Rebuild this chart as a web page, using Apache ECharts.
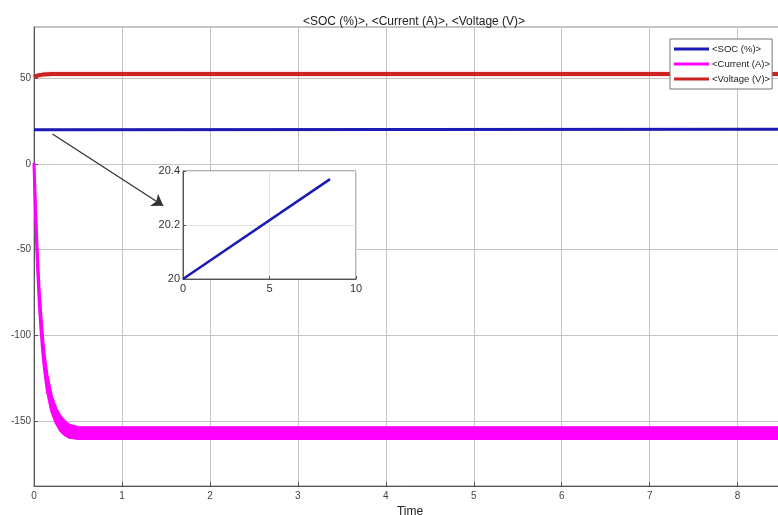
<!DOCTYPE html>
<html>
<head>
<meta charset="utf-8">
<script src="https://cdn.jsdelivr.net/npm/echarts@6/dist/echarts.min.js"></script>
<style>html,body{margin:0;padding:0;background:#fff}#c{width:778px;height:515px}</style>
</head>
<body>
<div id="c"></div>
<script>
// ---- data ----
const titleText = '<SOC (%)>, <Current (A)>, <Voltage (V)>';
const seriesNames = ['<SOC (%)>', '<Current (A)>', '<Voltage (V)>'];
const yTicks = [-150, -100, -50, 0, 50];
const xTicks = [0, 1, 2, 3, 4, 5, 6, 7, 8];

const socTime = [0, 8.5];
const socValue = [20.0, 20.37];

const voltTime = [0, 0.03, 0.06, 0.1, 0.15, 0.2, 0.3, 0.5, 1, 2, 3, 4, 5, 6, 7, 8, 8.55];
const voltValue = [50.9, 51.5, 51.9, 52.2, 52.4, 52.5, 52.6, 52.6, 52.6, 52.6, 52.6, 52.6, 52.6, 52.6, 52.6, 52.6, 52.6];

const curTime  = [0, 0.02, 0.04, 0.06, 0.08, 0.1, 0.12, 0.15, 0.2, 0.25, 0.3, 0.35, 0.4, 0.5, 0.6, 1, 2, 3, 4, 5, 6, 7, 8, 8.55];
const curUpper = [0, -30, -55, -75, -90, -103, -113, -124, -136, -143, -147.5, -150.5, -152.5, -153.8, -154, -154, -154, -154, -154, -154, -154, -154, -154, -154];
const curLower = [0, -33, -60, -81, -97, -110, -120, -132, -144, -151, -155.5, -158, -159.5, -160.3, -160.3, -160.3, -160.3, -160.3, -160.3, -160.3, -160.3, -160.3, -160.3, -160.3];

const insetXTicks = [0, 5, 10];
const insetYTicks = [20, 20.2, 20.4];
const arrowFrom = [0.21, 17.5];
const arrowTo = [1.47, -24.4];

// ---- build ----
const FONT = 'Liberation Sans';
const colors = { soc: '#1a1ab4', cur: '#ff00ff', volt: '#cc2222' };
const zip = (a, b) => a.map((v, i) => [v, b[i]]);

const chart = echarts.init(document.getElementById('c'), null, { renderer: 'canvas' });

const bandPts = curTime.map((t, i) => [t, curUpper[i]])
  .concat(curTime.map((t, i) => [t, curLower[i]]).reverse());

chart.setOption({
  backgroundColor: '#fff',
  animation: false,
  textStyle: { fontFamily: FONT },
  title: {
    text: titleText, left: 298, top: 11,
    textStyle: { fontSize: 12, fontWeight: 'normal', color: '#222', fontFamily: FONT }
  },
  legend: {
    data: seriesNames.map((n, i) => ({
      name: n, icon: 'rect',
      itemStyle: { color: [colors.soc, colors.cur, colors.volt][i] }
    })),
    orient: 'vertical', left: 670, top: 39,
    itemWidth: 35, itemHeight: 3, itemGap: 3,
    padding: [4, 2, 4, 4],
    backgroundColor: '#fff', borderColor: '#777', borderWidth: 1,
    textStyle: { fontSize: 9.5, color: '#222', lineHeight: 12, fontFamily: FONT, padding: [0, 0, 0, -2] },
    selectedMode: false
  },
  grid: [
    { left: 34, top: 27, width: 752, height: 459, show: true, borderColor: '#888', borderWidth: 1, backgroundColor: '#fff', z: 0, outerBoundsMode: 'none', containLabel: false },
    { left: 183, top: 171, width: 173, height: 108, show: true, borderColor: '#666', borderWidth: 1, backgroundColor: '#fff', z: 5, outerBoundsMode: 'none', containLabel: false }
  ],
  xAxis: [
    {
      type: 'value', gridIndex: 0, min: 0, max: 8.55,
      name: 'Time', nameLocation: 'middle', nameGap: 18,
      nameTextStyle: { fontSize: 12, color: '#222', fontFamily: FONT },
      axisLine: { show: true, onZero: false, lineStyle: { color: '#555' } },
      axisTick: { show: true, inside: true, length: 4, lineStyle: { color: '#555' }, customValues: xTicks },
      axisLabel: { fontSize: 10, color: '#444', margin: 5, customValues: xTicks },
      splitLine: { show: true, lineStyle: { color: '#c4c4c4', width: 1 } }
    },
    {
      type: 'value', gridIndex: 1, min: 0, max: 10, interval: 5, z: 6,
      axisLine: { show: true, onZero: false, lineStyle: { color: '#555' } },
      axisTick: { show: true, inside: true, length: 3, lineStyle: { color: '#555' } },
      axisLabel: { fontSize: 11, color: '#333', margin: 4 },
      splitLine: { show: true, lineStyle: { color: '#e2e2e2' } }
    }
  ],
  yAxis: [
    {
      type: 'value', gridIndex: 0, min: -188, max: 80,
      axisLine: { show: true, onZero: false, lineStyle: { color: '#555' } },
      axisTick: { show: true, inside: true, length: 4, lineStyle: { color: '#555' }, customValues: yTicks },
      axisLabel: { fontSize: 10, color: '#444', margin: 3, customValues: yTicks },
      splitLine: { show: true, lineStyle: { color: '#c4c4c4', width: 1 } }
    },
    {
      type: 'value', gridIndex: 1, min: 20, max: 20.4, interval: 0.2, z: 6,
      axisLine: { show: true, onZero: false, lineStyle: { color: '#555' } },
      axisTick: { show: true, inside: true, length: 3, lineStyle: { color: '#555' } },
      axisLabel: { fontSize: 11, color: '#333', margin: 3 },
      splitLine: { show: true, lineStyle: { color: '#e2e2e2' } }
    }
  ],
  series: [
    {
      name: seriesNames[0], type: 'line', xAxisIndex: 0, yAxisIndex: 0,
      data: zip(socTime, socValue), showSymbol: false, symbol: 'none',
      lineStyle: { color: colors.soc, width: 3 }, itemStyle: { color: colors.soc }, z: 3,
      markLine: {
        silent: true, symbol: ['none', 'arrow'], symbolSize: 11,
        label: { show: false },
        lineStyle: { color: '#333', width: 1.3, type: 'solid' },
        itemStyle: { color: '#111' },
        data: [[{ coord: arrowFrom }, { coord: arrowTo }]]
      }
    },
    {
      name: seriesNames[1], type: 'line', xAxisIndex: 0, yAxisIndex: 0,
      data: zip(curTime, curUpper), showSymbol: false, symbol: 'none',
      lineStyle: { color: colors.cur, width: 2 }, itemStyle: { color: colors.cur }, z: 3
    },
    {
      name: seriesNames[1], type: 'custom', xAxisIndex: 0, yAxisIndex: 0,
      data: [[0, 0]], z: 3,
      renderItem: function (params, api) {
        const pts = bandPts.map(p => api.coord(p));
        return {
          type: 'polygon',
          shape: { points: pts },
          style: { fill: colors.cur, stroke: colors.cur, lineWidth: 3, lineJoin: 'round' }
        };
      }
    },
    {
      name: seriesNames[2], type: 'line', xAxisIndex: 0, yAxisIndex: 0,
      data: zip(voltTime, voltValue), showSymbol: false, symbol: 'none',
      lineStyle: { color: colors.volt, width: 4, shadowColor: 'rgba(220,80,80,0.5)', shadowBlur: 2 },
      itemStyle: { color: colors.volt }, z: 3
    },
    {
      name: 'inset', type: 'line', xAxisIndex: 1, yAxisIndex: 1,
      data: zip(socTime, socValue), showSymbol: false, symbol: 'none',
      lineStyle: { color: colors.soc, width: 2.5 }, z: 7
    }
  ]
});
</script>
</body>
</html>
